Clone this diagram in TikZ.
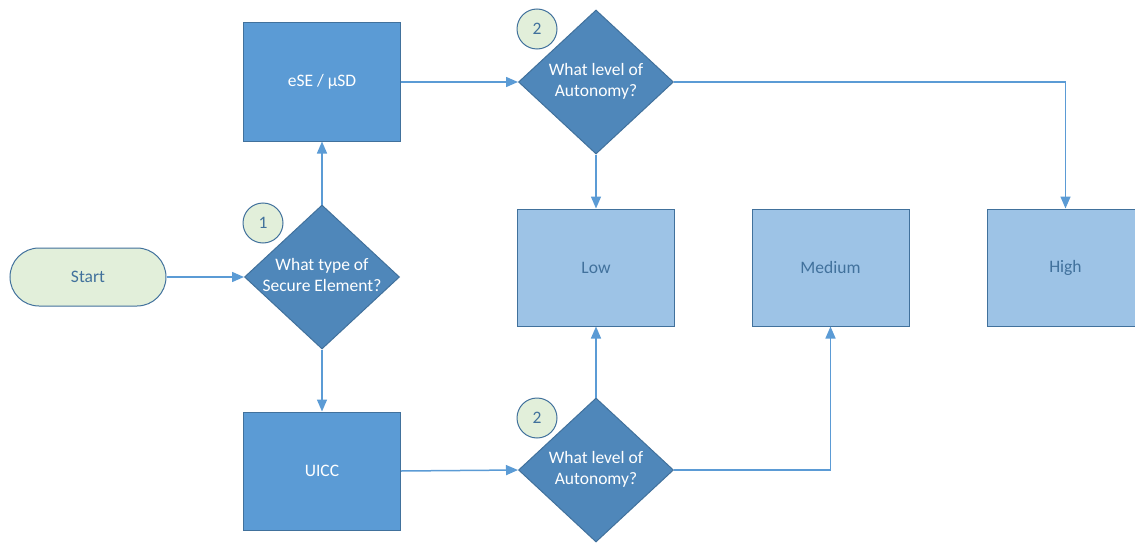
\documentclass[tikz,border=0pt]{standalone}
\usepackage{fontspec}
\setmainfont{Carlito}
\usetikzlibrary{shapes.geometric,arrows.meta}
\definecolor{boxfill}{HTML}{5B9BD5}
\definecolor{boxdraw}{HTML}{41719C}
\definecolor{diafill}{HTML}{4F87BA}
\definecolor{resfill}{HTML}{9DC3E6}
\definecolor{startfill}{HTML}{E2EFDA}
\definecolor{linecol}{HTML}{5B9BD5}
\newcommand{\dtext}[1]{\makebox[0pt][c]{\begin{tabular}{@{}c@{}}#1\end{tabular}}}
\begin{document}
\begin{tikzpicture}[x=1pt,y=-1pt,
  every node/.style={font=\fontsize{17.5}{20.5}\selectfont},
  procbox/.style={rectangle,draw=boxdraw,fill=boxfill,line width=1pt,minimum width=157pt,minimum height=118pt,inner sep=0pt,text=white},
  resbox/.style={rectangle,draw=boxdraw,fill=resfill,line width=1pt,minimum width=157pt,minimum height=117pt,inner sep=0pt,text=boxdraw},
  dia/.style={diamond,draw=boxdraw,fill=diafill,line width=1pt,minimum width=155pt,minimum height=144pt,inner sep=0pt,text=white},
  startbox/.style={rectangle,rounded corners=29pt,draw=boxdraw,fill=startfill,line width=1pt,minimum width=156pt,minimum height=58pt,inner sep=0pt,text=boxdraw},
  numcirc/.style={circle,draw=boxdraw,fill=startfill,line width=1pt,minimum size=40pt,inner sep=0pt,text=boxdraw},
  conn/.style={draw=linecol,line width=1.5pt,-{Triangle[length=12pt,width=10pt]}}
]
\useasboundingbox (0,0) rectangle (1135,543);

\node[startbox] (start) at (88,277) {Start};
\node[dia] (d1) at (322,277) {\dtext{What type of\\Secure Element?}};
\node[numcirc] (c1) at (263,223) {1};
\node[procbox] (ese) at (322,82) {eSE / µSD};
\node[procbox] (uicc) at (322,471) {UICC};
\node[dia] (d2) at (596,82) {\dtext{What level of\\Autonomy?}};
\node[numcirc] (c2) at (537,29) {2};
\node[dia] (d3) at (596,470) {\dtext{What level of\\Autonomy?}};
\node[numcirc] (c3) at (537,418) {2};
\node[resbox] (low) at (596,267.5) {Low};
\node[resbox] (med) at (830.5,267.5) {Medium};
\node[resbox] (high) at (1065.5,267.5) {High};
\coordinate (hc) at (1065.5,82);
\coordinate (mc) at (830.5,470);

\draw[conn] (start.east) -- (d1.west);
\draw[conn] (d1.north) -- (ese.south);
\draw[conn] (d1.south) -- (uicc.north);
\draw[conn] (ese.east) -- (d2.west);
\draw[conn] (uicc.east) -- (d3.west);
\draw[conn] (d2.south) -- (low.north);
\draw[conn] (d3.north) -- (low.south);
\draw[conn] (d2.east) -- (hc) -- (high.north);
\draw[conn] (d3.east) -- (mc) -- (med.south);
\end{tikzpicture}
\end{document}
